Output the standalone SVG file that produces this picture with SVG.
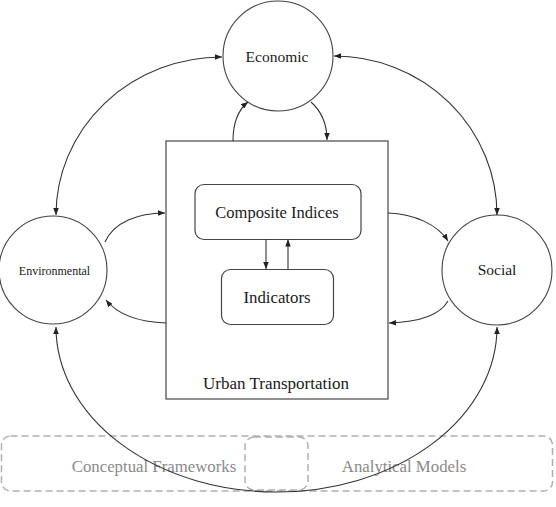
<svg xmlns="http://www.w3.org/2000/svg" width="556" height="507" viewBox="0 0 556 507">
<style>
.c{fill:#fff;stroke:#444;stroke-width:1.1}
.b{fill:#fff;stroke:#444;stroke-width:1.2}
.d{fill:none;stroke:#b0b0b0;stroke-width:1.5;stroke-dasharray:7 4}
.l{fill:none;stroke:#333;stroke-width:1.1;marker-end:url(#ah)}
.l2{fill:none;stroke:#333;stroke-width:1.1;marker-start:url(#ah);marker-end:url(#ah)}
</style>
<defs>
<marker id="ah" viewBox="0 0 10 8" refX="10" refY="4" markerWidth="7" markerHeight="5.6" orient="auto-start-reverse" markerUnits="userSpaceOnUse">
<path d="M0,0 L10,4 L0,8 z" fill="#222"/>
</marker>
</defs>
<rect width="556" height="507" fill="#fff"/>
<g id="frame-boxes">
<rect class="d" x="1.5" y="436" width="551" height="55" rx="9"/>
<rect class="d" x="245" y="437" width="63" height="53" rx="9"/>
<text x="154" y="472" font-size="16.8" fill="#8a8a8a" text-anchor="middle" font-family="Liberation Serif">Conceptual Frameworks</text>
<text x="404" y="472" font-size="16.8" fill="#8a8a8a" text-anchor="middle" font-family="Liberation Serif">Analytical Models</text>
</g>
<g id="urban-transportation">
<rect x="166" y="141" width="222" height="258" fill="#fff" stroke="#555" stroke-width="1.3"/>
<text x="276" y="389" font-size="17" fill="#1a1a1a" text-anchor="middle" font-family="Liberation Serif">Urban Transportation</text>
</g>
<g id="composite-indices">
<rect class="b" x="195" y="184.5" width="166" height="55" rx="9"/>
<text x="277" y="217.5" font-size="16.5" fill="#1a1a1a" text-anchor="middle" font-family="Liberation Serif">Composite Indices</text>
</g>
<g id="indicators">
<rect class="b" x="221.5" y="269.5" width="112" height="55" rx="9"/>
<text x="277" y="302.5" font-size="16.8" fill="#1a1a1a" text-anchor="middle" font-family="Liberation Serif">Indicators</text>
</g>
<g id="economic">
<circle class="c" cx="278" cy="56" r="55"/>
<text x="277" y="62" font-size="15.5" fill="#1a1a1a" text-anchor="middle" font-family="Liberation Serif">Economic</text>
</g>
<g id="environmental">
<circle class="c" cx="53" cy="270" r="54"/>
<text x="54.5" y="275" font-size="12" fill="#1a1a1a" text-anchor="middle" font-family="Liberation Serif">Environmental</text>
</g>
<g id="social">
<circle class="c" cx="497" cy="270" r="55"/>
<text x="497" y="275" font-size="15.5" fill="#1a1a1a" text-anchor="middle" font-family="Liberation Serif">Social</text>
</g>
<g id="connectors">
<path class="l2" d="M222,57 A166 158 0 0 0 56,215"/>
<path class="l2" d="M334,56 A163 159 0 0 1 497,215"/>
<path class="l2" d="M56,327 A220.5 165 0 0 0 497,327"/>
<path class="l" d="M233,141 C233,124 238,110 248,102"/>
<path class="l" d="M311,102 C320,110 327,122 327,140"/>
<path class="l" d="M105,242 C114,222 138,213 165,213"/>
<path class="l" d="M166,323 C140,322 118,315 106,300"/>
<path class="l" d="M388,213 C415,214 438,225 448,241"/>
<path class="l" d="M448,301 C440,315 420,322 389,323"/>
<path class="l" d="M266,239.5 L266,269"/>
<path class="l" d="M288,269.5 L288,239.5"/>
</g>
</svg>
